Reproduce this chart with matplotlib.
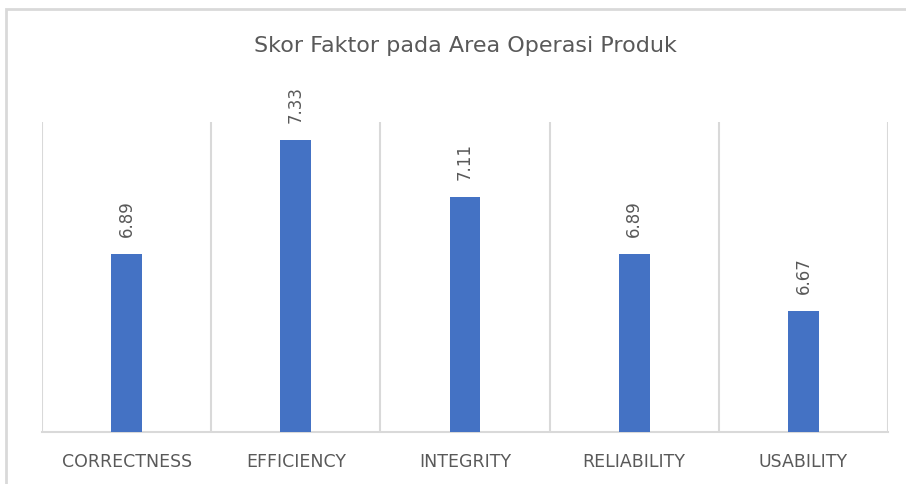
#Bar chart of factor scores in the product operation area
import matplotlib.pyplot as plt
from matplotlib.patches import Rectangle
import numpy as np

#Data
categories = ['CORRECTNESS', 'EFFICIENCY', 'INTEGRITY', 'RELIABILITY', 'USABILITY']
scores = [6.89, 7.33, 7.11, 6.89, 6.67]
title = 'Skor Faktor pada Area Operasi Produk'

barColour = '#4472C4'
gridColour = '#d9d9d9'
textColour = '#595959'

fig = plt.figure(figsize=(9.06, 4.84), dpi=100)
fig.patch.set_facecolor('white')

#Outer chart border (only top and left show in the picture)
fig.patches.append(Rectangle((6/906, -0.1), 1.2, (484-9)/484 + 0.1, transform=fig.transFigure,
                             fill=False, edgecolor=gridColour, linewidth=2))

ax = fig.add_axes([42/906, 52/484, 846/906, 310/484])
x = np.arange(len(categories))
bars = ax.bar(x, scores, width=0.183, color=barColour, zorder=3)

ax.set_xlim(-0.5, len(categories)-0.5)
ax.set_ylim(6.2, 7.4)

#Value labels above the bars, rotated
for xi, v in zip(x, scores):
    ax.annotate('%.2f' % v, (xi, v), xytext=(0, 12), textcoords='offset points',
                rotation=90, ha='center', va='bottom', fontsize=12, color=textColour)

#Vertical lines between categories
ax.set_xticks(x)
ax.set_xticklabels(categories, fontsize=12.5, color=textColour)
ax.set_xticks(np.arange(-0.5, len(categories)), minor=True)
ax.tick_params(axis='x', which='both', length=0, pad=15)
ax.grid(axis='x', which='minor', color=gridColour, linewidth=1.5, zorder=0)
ax.set_yticks([])

for side in ['top', 'left', 'right']:
    ax.spines[side].set_visible(False)
ax.spines['bottom'].set_color(gridColour)
ax.spines['bottom'].set_linewidth(1.5)

fig.text(465/906, 1 - 46/484, title, ha='center', va='center', fontsize=16, color=textColour)

fig.savefig('out.png', dpi=100)
